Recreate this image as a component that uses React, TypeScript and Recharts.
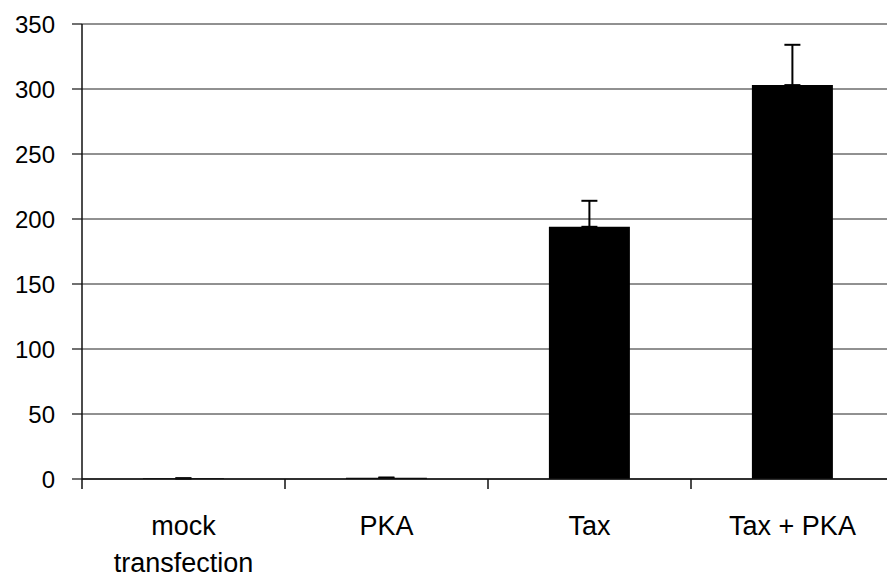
import { Bar, BarChart, CartesianGrid, ErrorBar, XAxis, YAxis } from "recharts";

const categories = ["mock transfection", "PKA", "Tax", "Tax + PKA"];
const values = [0.5, 1, 194, 303];
const upperErrors = [0, 0, 20, 31];
const yTicks = [0, 50, 100, 150, 200, 250, 300, 350];

const data = categories.map((name, i) => ({
  name,
  value: values[i],
  err: [0, upperErrors[i]],
}));

const FONT = "'Liberation Sans', Arial, sans-serif";
const CHART_W = 900;
const PLOT_LEFT = 82;
const PLOT_RIGHT_MARGIN = 6;
const BAND = (CHART_W - PLOT_LEFT - PLOT_RIGHT_MARGIN) / categories.length;

function CategoryTick(props: any) {
  const { x, y, payload, index } = props;
  const words = String(payload.value);
  const lines = words === "mock transfection" ? ["mock", "transfection"] : [words];
  return (
    <g>
      <line x1={x - BAND / 2} x2={x - BAND / 2} y1={y} y2={y + 10} stroke="#111" strokeWidth={1.5} />
      {index === categories.length - 1 && (
        <line x1={x + BAND / 2} x2={x + BAND / 2} y1={y} y2={y + 10} stroke="#111" strokeWidth={1.5} />
      )}
      <text x={x} y={y + 56} textAnchor="middle" fill="#000" fontSize={27} fontFamily={FONT}>
        {lines.map((line, i) => (
          <tspan key={line} x={x} dy={i === 0 ? 0 : 37}>
            {line}
          </tspan>
        ))}
      </text>
    </g>
  );
}

export default function App() {
  return (
    <div
      style={{
        position: "absolute",
        left: 0,
        top: 0,
        width: 887,
        height: 578,
        overflow: "hidden",
        background: "#fff",
      }}
    >
      <BarChart
        width={CHART_W}
        height={578}
        data={data}
        margin={{ top: 24, right: PLOT_RIGHT_MARGIN, bottom: 0, left: 0 }}
        barCategoryGap="30%"
      >
        <CartesianGrid vertical={false} stroke="#222" strokeWidth={1} />
        <XAxis
          dataKey="name"
          height={99}
          axisLine={{ stroke: "#111", strokeWidth: 1.5 }}
          tickLine={false}
          tickSize={0}
          tickMargin={0}
          interval={0}
          tick={<CategoryTick />}
        />
        <YAxis
          width={PLOT_LEFT}
          domain={[0, 350]}
          ticks={yTicks}
          interval={0}
          axisLine={{ stroke: "#111", strokeWidth: 1.5 }}
          tickLine={{ stroke: "#111", strokeWidth: 1.2 }}
          tickSize={10}
          tickMargin={17}
          tick={{ fill: "#000", fontSize: 24, fontFamily: FONT }}
        />
        <Bar dataKey="value" fill="#000" isAnimationActive={false}>
          <ErrorBar
            dataKey="err"
            direction="y"
            width={8}
            stroke="#000"
            strokeWidth={2}
            isAnimationActive={false}
          />
        </Bar>
      </BarChart>
    </div>
  );
}
